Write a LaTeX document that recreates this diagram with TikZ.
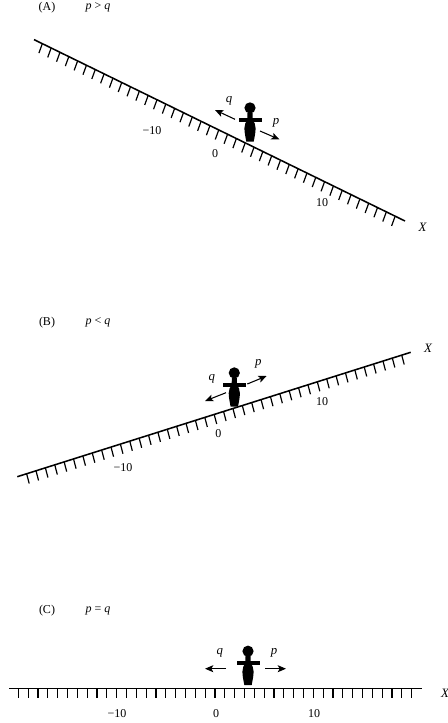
\documentclass[tikz,border=0pt]{standalone}
\usepackage{fontspec}
\setmainfont{Liberation Serif}
\usetikzlibrary{positioning, calc, arrows.meta}
\tikzset{
  person/.pic={
    \fill (0,-33.8) circle (5.6);
    \fill (-2.5,-29) -- (2.5,-29) -- (2.6,-22)
      .. controls (4.2,-20) and (5.6,-17) .. (5.6,-13.5)
      .. controls (5.6,-9) and (4.4,-4) .. (3.7,0) -- (-3.7,0)
      .. controls (-4.4,-4) and (-5.6,-9) .. (-5.6,-13.5)
      .. controls (-5.6,-17) and (-4.2,-20) .. (-2.6,-22) -- cycle;
    \fill (-11.5,-23.6) rectangle (11.5,-19.8);
  }
}
\begin{document}
\begin{tikzpicture}[
  x=0.75pt, y=-0.75pt,
  axis/.style={black, line width=1.15pt},
  tick/.style={black, line width=0.9pt},
  force/.style={black, line width=0.8pt, -{Stealth[length=6.2pt, width=5.2pt, inset=1.4pt]}},
  every node/.style={font=\fontsize{9}{10}\selectfont, inner sep=0pt},
  var/.style={font=\fontsize{9.6}{10}\selectfont\itshape}
]
  \useasboundingbox (0,0) rectangle (448,723);

  % panel A
  \node (titleA) at (47,7.5) {(A)};
  \node (condA) at (98,7.5) {\textit{p} > \textit{q}};
  \coordinate (lineA1) at (34,39.6);
  \coordinate (lineA2) at (405,221);
  \coordinate (tickA1) at (42.3,43.8);
  \coordinate (tickA2) at (395,216.6);
  \draw[axis] (lineA1) -- (lineA2);
  \foreach \i in {0,...,40}{
    \draw[tick] ($(tickA1)!\i/40!(tickA2)$) -- ++(-3.4,9.3);
  }
  \pic at (250,141.7) {person};
  \coordinate (qA1) at (235,119.3);
  \coordinate (qA2) at (215,110);
  \coordinate (pA1) at (260,131);
  \coordinate (pA2) at (279.5,139.5);
  \draw[force] (qA1) -- (qA2);
  \draw[force] (pA1) -- (pA2);
  \node[var] (qA) at (229,101) {q};
  \node[var] (pA) at (276,122.5) {p};
  \node (zeroA) at (215,154) {0};
  \node (minusA) at (152,130.5) {−10};
  \node (tenA) at (322,202.5) {10};
  \node[var] (axisA) at (422.5,227) {X};

  % panel B
  \node (titleB) at (47,322.5) {(B)};
  \node (condB) at (98,322.5) {\textit{p} < \textit{q}};
  \coordinate (lineB1) at (17.3,476.7);
  \coordinate (lineB2) at (410.7,352.3);
  \coordinate (tickB1) at (26.7,474);
  \coordinate (tickB2) at (401.7,355);
  \draw[axis] (lineB1) -- (lineB2);
  \foreach \i in {0,...,40}{
    \draw[tick] ($(tickB1)!\i/40!(tickB2)$) -- ++(2.5,9.5);
  }
  \pic at (234.3,406.7) {person};
  \coordinate (qB1) at (226,392.7);
  \coordinate (qB2) at (205,401);
  \coordinate (pB1) at (247.3,384);
  \coordinate (pB2) at (266.7,376);
  \draw[force] (qB1) -- (qB2);
  \draw[force] (pB1) -- (pB2);
  \node[var] (qB) at (211.7,379) {q};
  \node[var] (pB) at (258.3,364) {p};
  \node (zeroB) at (218.3,434) {0};
  \node (minusB) at (123,467.5) {−10};
  \node (tenB) at (322,401.5) {10};
  \node[var] (axisB) at (428,348) {X};

  % panel C
  \node (titleC) at (47,610.5) {(C)};
  \node (condC) at (98,610.5) {\textit{p} = \textit{q}};
  \coordinate (lineC1) at (9,688.3);
  \coordinate (lineC2) at (421.7,688.3);
  \coordinate (tickC1) at (18.3,688.3);
  \coordinate (tickC2) at (411.7,688.3);
  \draw[axis] (lineC1) -- (lineC2);
  \foreach \i in {0,...,40}{
    \draw[tick] ($(tickC1)!\i/40!(tickC2)$) -- ++(0,10);
  }
  \pic at (248,685) {person};
  \coordinate (qC1) at (226,668.7);
  \coordinate (qC2) at (205,668.7);
  \coordinate (pC1) at (265,668.7);
  \coordinate (pC2) at (286,668.7);
  \draw[force] (qC1) -- (qC2);
  \draw[force] (pC1) -- (pC2);
  \node[var] (qC) at (219.7,653) {q};
  \node[var] (pC) at (274,653) {p};
  \node (zeroC) at (216,713.5) {0};
  \node (minusC) at (117,713.5) {−10};
  \node (tenC) at (314,713.5) {10};
  \node[var] (axisC) at (445,693) {X};
\end{tikzpicture}
\end{document}
